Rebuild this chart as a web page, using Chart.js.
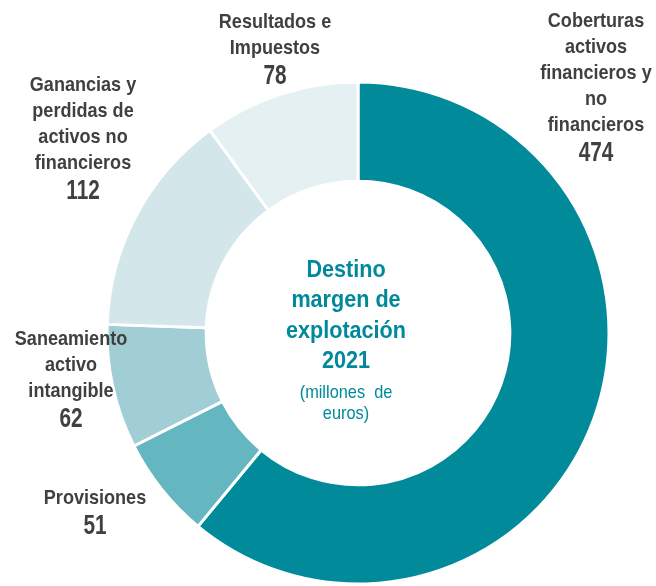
<!DOCTYPE html>
<html>
<head>
<meta charset="utf-8">
<script src="https://cdn.jsdelivr.net/npm/chart.js@4/dist/chart.umd.min.js"></script>
<style>
  html, body { margin: 0; padding: 0; background: #fff; }
  #chart { display: block; }
</style>
</head>
<body>
<canvas id="chart" width="656" height="586"></canvas>
<script>
const categories = [
    ["Coberturas", "activos", "financieros y", "no", "financieros"],
    ["Provisiones"],
    ["Saneamiento", "activo", "intangible"],
    ["Ganancias y", "perdidas de", "activos no", "financieros"],
    ["Resultados e", "Impuestos"],
];
const values = [474, 51, 62, 112, 78];
const centerTitle = ["Destino", "margen de", "explotación", "2021"];
const centerNote = ["(millones  de", "euros)"];

const COLORS = ["#008a9a", "#64b6c0", "#a1cdd4", "#d3e6ea", "#e5f0f2"];
const FONT = "'Liberation Sans Narrow', 'Arial Narrow', 'Liberation Sans', sans-serif";

// where each label block sits (x centre, y of first line)
const LABEL_POS = [
    { x: 596, y: 21 },
    { x: 95, y: 498 },
    { x: 71, y: 339 },
    { x: 83, y: 85 },
    { x: 275, y: 22 },
];

// no narrow font installed, so squeeze the text horizontally
function narrowText(ctx, text, x, y, sx) {
    ctx.save();
    ctx.translate(x, y);
    ctx.scale(sx, 1);
    ctx.fillText(text, 0, 0);
    ctx.restore();
}

const labelPlugin = {
    id: "outerLabels",
    afterDraw(chart) {
        const ctx = chart.ctx;
        ctx.save();
        ctx.textAlign = "center";
        ctx.textBaseline = "middle";
        ctx.fillStyle = "#404040";
        categories.forEach((lines, i) => {
            const p = LABEL_POS[i];
            ctx.font = "bold 21px " + FONT;
            lines.forEach((t, j) => narrowText(ctx, t, p.x, p.y + j * 26, 0.86));
            ctx.font = "bold 27px " + FONT;
            narrowText(ctx, String(values[i]), p.x, p.y + lines.length * 26 + 3, 0.77);
        });

        // centre text
        const arc = chart.getDatasetMeta(0).data[0];
        const cx = arc.x - 12;
        ctx.fillStyle = "#00899a";
        ctx.font = "bold 24px " + FONT;
        centerTitle.forEach((t, j) => narrowText(ctx, t, cx, 270 + j * 30.5, 0.9));
        ctx.font = "19px " + FONT;
        centerNote.forEach((t, j) => narrowText(ctx, t, cx, 393 + j * 21, 0.86));
        ctx.restore();
    },
};

new Chart(document.getElementById("chart"), {
    type: "doughnut",
    data: {
        labels: categories.map((l) => l.join(" ")),
        datasets: [
            {
                data: values,
                backgroundColor: COLORS,
                borderColor: "#ffffff",
                borderWidth: 3,
                hoverOffset: 0,
            },
        ],
    },
    options: {
        responsive: false,
        animation: false,
        cutout: "60.5%",
        layout: {
            padding: { left: 105.5, right: 45.5, top: 80.5, bottom: 0.5 },
        },
        plugins: {
            legend: { display: false },
            tooltip: { enabled: false },
        },
    },
    plugins: [labelPlugin],
});
</script>
</body>
</html>
